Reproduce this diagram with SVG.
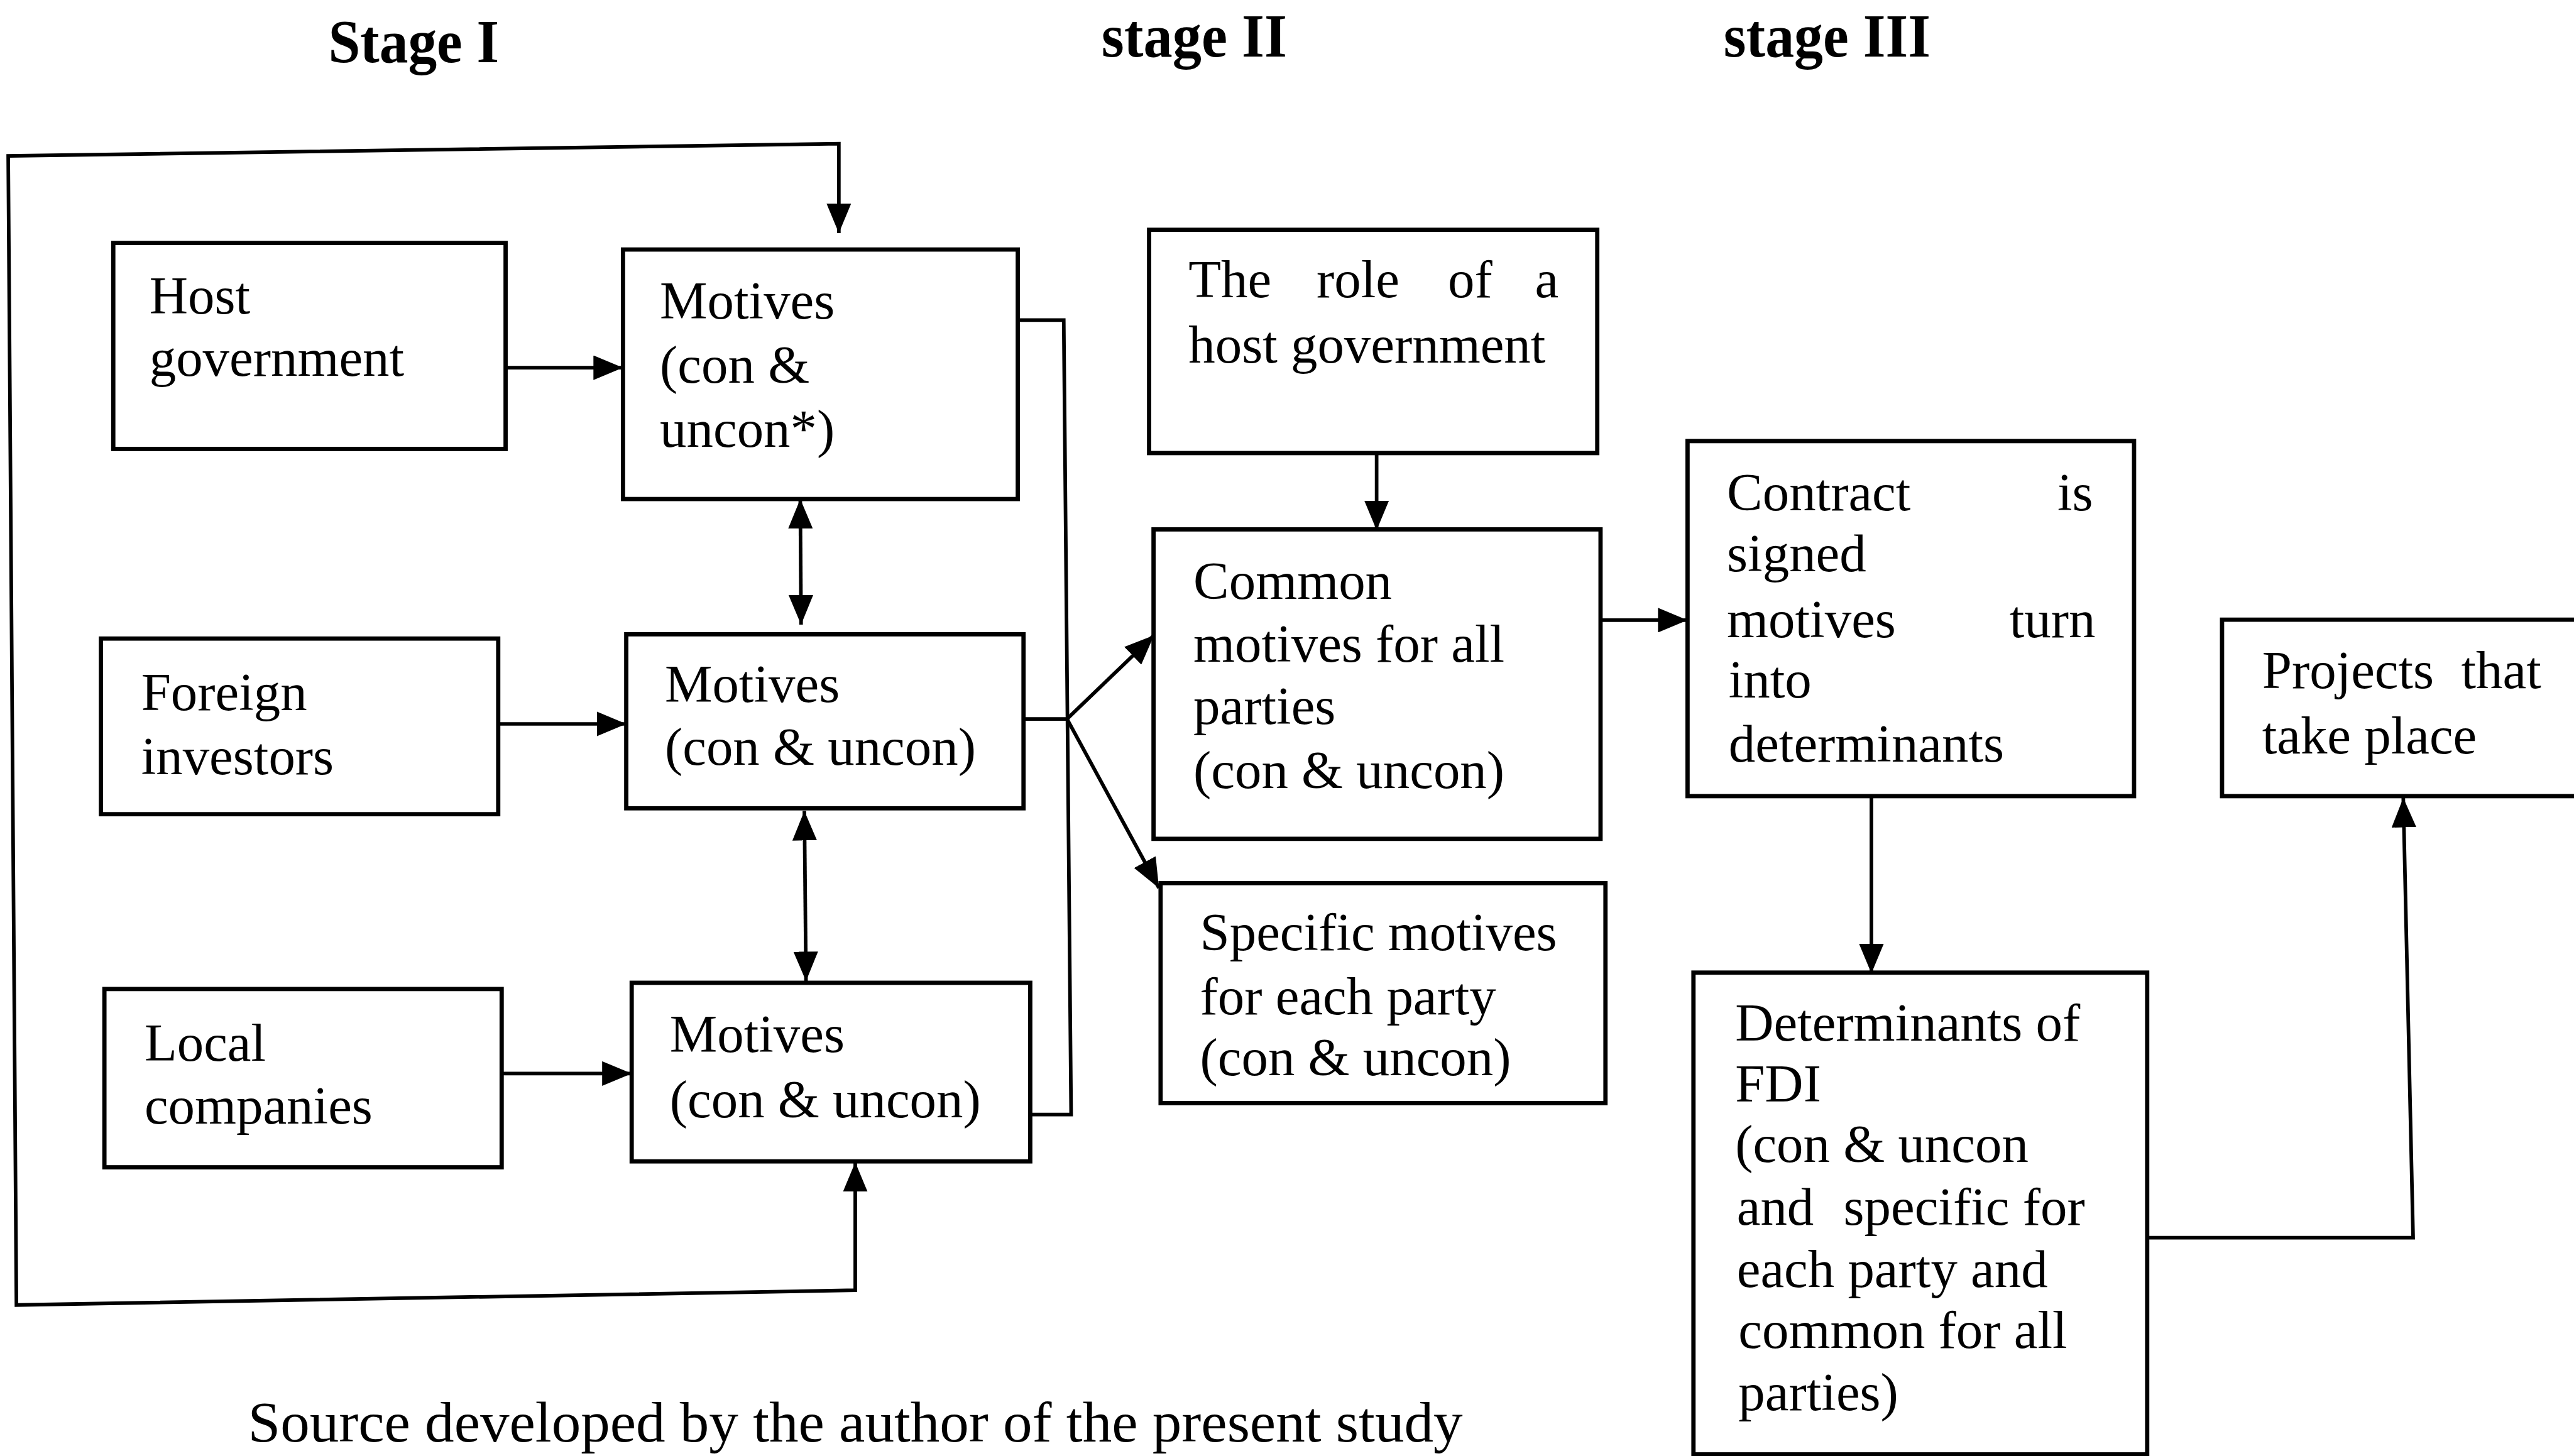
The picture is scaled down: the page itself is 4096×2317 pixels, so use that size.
<svg xmlns="http://www.w3.org/2000/svg" width="4096" height="2317" viewBox="0 0 4096 2317">
<style>
.box{fill:#fff;stroke:#000;stroke-width:2.6}
.conn{fill:none;stroke:#000;stroke-width:2.2}
text{font-family:"Liberation Serif","Times New Roman",serif;font-size:32.5px;fill:#000}
.title{font-weight:bold;font-size:37px}
.src{font-size:35px}
</style>
<defs>
<marker id="ah" viewBox="0 0 18 15" refX="18" refY="7.5" markerWidth="18" markerHeight="15" markerUnits="userSpaceOnUse" orient="auto-start-reverse">
<path d="M0,0 L18,7.5 L0,15 z" fill="#000"/>
</marker>
</defs>
<rect width="4096" height="2317" fill="#fff"/>
<g transform="scale(2.612245)">
<g id="titles">
<text class="title" x="200" y="38" textLength="104" lengthAdjust="spacingAndGlyphs">Stage I</text>
<text class="title" x="671" y="34.5" textLength="113" lengthAdjust="spacingAndGlyphs">stage II</text>
<text class="title" x="1050" y="34.5" textLength="126" lengthAdjust="spacingAndGlyphs">stage III</text>
</g>
<g id="connectors">
<path class="conn" d="M521,708 L521,786 L10,795 L5,95 L511,87.5 L511,142" marker-start="url(#ah)" marker-end="url(#ah)"/>
<path class="conn" d="M299.5,224 L379.5,224" marker-end="url(#ah)"/>
<path class="conn" d="M303.6,441 L381.5,441" marker-end="url(#ah)"/>
<path class="conn" d="M305.6,654 L384.8,654" marker-end="url(#ah)"/>
<path class="conn" d="M487.5,304 L488,380.5" marker-start="url(#ah)" marker-end="url(#ah)"/>
<path class="conn" d="M490,494 L491,597.7" marker-start="url(#ah)" marker-end="url(#ah)"/>
<path class="conn" d="M619.5,195 L648,195 L652.5,679 L627.6,679"/>
<path class="conn" d="M623.5,438 L650,438"/>
<path class="conn" d="M650,438 L703,387" marker-end="url(#ah)"/>
<path class="conn" d="M650,438 L706,541" marker-end="url(#ah)"/>
<path class="conn" d="M838.6,276 L838.6,323" marker-end="url(#ah)"/>
<path class="conn" d="M975,377.8 L1028,377.8" marker-end="url(#ah)"/>
<path class="conn" d="M1140,485 L1140,593" marker-end="url(#ah)"/>
<path class="conn" d="M1308,754 L1470,754 L1464,486" marker-end="url(#ah)"/>
</g>
<g id="host-government">
<rect class="box" x="69" y="148" width="239" height="125.5"/>
<text x="91" y="191">Host</text>
<text x="91" y="229">government</text>
</g>
<g id="motives-1">
<rect class="box" x="379.5" y="152" width="240.5" height="152"/>
<text x="402" y="194">Motives</text>
<text x="402" y="233">(con &amp;</text>
<text x="402" y="272">uncon*)</text>
</g>
<g id="foreign-investors">
<rect class="box" x="61.5" y="389" width="242" height="107"/>
<text x="86" y="432.5">Foreign</text>
<text x="86" y="471.5">investors</text>
</g>
<g id="motives-2">
<rect class="box" x="381.5" y="386.4" width="242" height="106"/>
<text x="405" y="427.5">Motives</text>
<text x="405" y="466">(con &amp; uncon)</text>
</g>
<g id="local-companies">
<rect class="box" x="63.6" y="602.5" width="242" height="108.6"/>
<text x="88" y="646">Local</text>
<text x="88" y="684.5">companies</text>
</g>
<g id="motives-3">
<rect class="box" x="384.8" y="598.7" width="242.8" height="108.8"/>
<text x="408" y="641">Motives</text>
<text x="408" y="680.5">(con &amp; uncon)</text>
</g>
<g id="role-host-government">
<rect class="box" x="700" y="140" width="273" height="136"/>
<text x="724" y="181">The</text>
<text x="802" y="181">role</text>
<text x="882" y="181">of</text>
<text x="935" y="181">a</text>
<text x="724" y="221">host government</text>
</g>
<g id="common-motives">
<rect class="box" x="702.7" y="322.5" width="272.3" height="188.5"/>
<text x="727" y="365">Common</text>
<text x="727" y="403">motives for all</text>
<text x="727" y="441">parties</text>
<text x="727" y="480">(con &amp; uncon)</text>
</g>
<g id="specific-motives">
<rect class="box" x="707" y="538" width="271" height="134"/>
<text x="731" y="579">Specific motives</text>
<text x="731" y="618">for each party</text>
<text x="731" y="655">(con &amp; uncon)</text>
</g>
<g id="contract-signed">
<rect class="box" x="1028" y="268.7" width="272" height="216.3"/>
<text x="1052" y="311">Contract</text>
<text x="1275" y="311" text-anchor="end">is</text>
<text x="1052" y="348">signed</text>
<text x="1052" y="388">motives</text>
<text x="1276.5" y="388" text-anchor="end">turn</text>
<text x="1053" y="425">into</text>
<text x="1053" y="464">determinants</text>
</g>
<g id="projects">
<rect class="box" x="1353.6" y="377.5" width="240" height="107.5"/>
<text x="1378" y="419">Projects</text>
<text x="1548" y="419" text-anchor="end">that</text>
<text x="1378" y="459">take place</text>
</g>
<g id="determinants-fdi">
<rect class="box" x="1031.6" y="592.5" width="276.4" height="293.5"/>
<text x="1057" y="634">Determinants of</text>
<text x="1057" y="671">FDI</text>
<text x="1057" y="708">(con &amp; uncon</text>
<text x="1058" y="746">and</text>
<text x="1123" y="746">specific for</text>
<text x="1058" y="784">each party and</text>
<text x="1059" y="821">common for all</text>
<text x="1059" y="859">parties)</text>
</g>
<text class="src" x="151" y="878" textLength="740" lengthAdjust="spacingAndGlyphs">Source developed by the author of the present study</text>
</g>
</svg>
